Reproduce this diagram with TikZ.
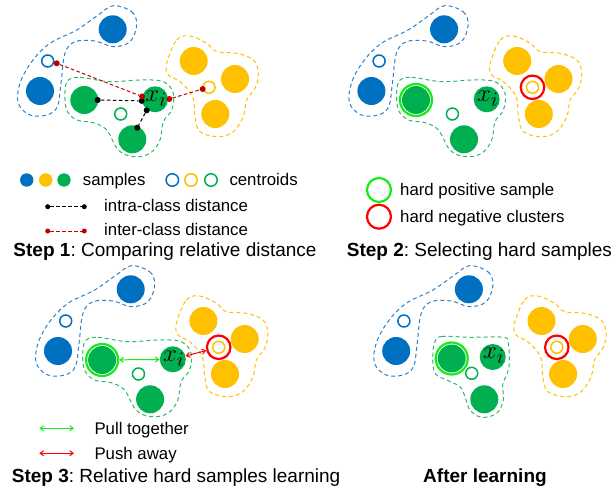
\documentclass[tikz,border=0pt]{standalone}
\usepackage{fontspec}
\setmainfont{Liberation Sans}
\usetikzlibrary{arrows.meta,calc}
\frenchspacing

\definecolor{cblue}{HTML}{0070C0}
\definecolor{cyellow}{HTML}{FFC000}
\definecolor{cgreen}{HTML}{00B050}
\definecolor{hpos}{HTML}{12EE12}
\definecolor{hneg}{HTML}{FF0000}
\definecolor{dred}{HTML}{C00000}
\definecolor{hullblue}{HTML}{2E80C8}
\definecolor{hullyellow}{HTML}{FFC000}
\definecolor{hullgreen}{HTML}{30B868}

\tikzset{
  sample/.style={circle, fill=#1, minimum size=28bp, inner sep=0},
  centroid/.style={circle, draw=#1, line width=1.5bp, minimum size=12bp, inner sep=0},
  ring/.style={circle, draw=#1, line width=2.2bp, inner sep=0},
  dotnode/.style={circle, fill=#1, minimum size=6bp, inner sep=0},
  hull/.style={draw=#1, line width=1bp, dash pattern=on 4bp off 3bp},
  distline/.style={draw=#1, line width=1bp, dash pattern=on 3.5bp off 2.5bp},
  twoway/.style={draw=#1, line width=1bp, {Straight Barb[length=3.5bp,width=5bp]}-{Straight Barb[length=3.5bp,width=5bp]}},
  lbl/.style={anchor=base west, inner sep=0, font=\fontsize{16.8bp}{20bp}\selectfont},
  steplbl/.style={inner sep=0, font=\fontsize{19bp}{22bp}\selectfont},
  xilbl/.style={font=\fontsize{28bp}{30bp}\selectfont}
}

% blue class: two samples, one centroid and the dashed hull
\newcommand\blueclass[1]{%
  \draw[hull=hullblue] plot[smooth cycle, tension=0.6] coordinates {
    (113.3,5.7) (131.7,11.7) (136.7,25) (130,41.7) (113.3,46.7) (95,41)
    (75,41.7) (65,53.3) (61,83.3) (57.3,106.7) (46.7,115) (30,115)
    (18.3,103.3) (20,83.3) (31.7,61.7) (50,43.3) (76.7,30) (98.3,15)};
  \node[sample=cblue] (#1bt) at (112.7,29.3) {};
  \node[sample=cblue] (#1bl) at (40,91) {};
  \node[centroid=cblue] (#1bc) at (47.7,61) {};
}

% yellow class
\newcommand\yellowclass[1]{%
  \draw[hull=hullyellow] plot[smooth cycle, tension=0.6] coordinates {
    (166.7,63.3) (176.7,40) (190,36) (206.7,43.3) (216.7,51.7) (236.7,53.3)
    (253.3,60) (258.3,73.3) (255,88.3) (246.7,100) (243.3,116.7) (233.3,131.7)
    (218.3,136.7) (200,131.7) (195,116.7) (192.7,96.7) (180,81.7) (168.3,75)};
  \node[sample=cyellow] (#1yt) at (193.7,61) {};
  \node[sample=cyellow] (#1yr) at (235,79) {};
  \node[sample=cyellow] (#1yb) at (215.3,114) {};
  \node[centroid=cyellow] (#1yc) at (209,87.3) {};
}

% green class, with the anchor sample x_i
\newcommand\greenclass[1]{%
  \draw[hull=hullgreen] plot[smooth cycle, tension=0.6] coordinates {
    (68.3,80) (80,77.3) (110,81.7) (140,80) (163.3,81.7) (173.3,93.3)
    (171.7,110) (163.3,121.7) (160,140) (150,153.3) (133.3,156.7) (118.3,150)
    (106.7,130) (93.3,122.7) (76.7,120) (66.7,110) (65,91.7)};
  \node[sample=cgreen] (#1gl) at (84.3,100) {};
  \node[sample=cgreen] (#1gb) at (132.3,139.3) {};
  \node[centroid=cgreen] (#1gc) at (120.7,114) {};
  \node[sample=cgreen, minimum size=26bp, xilbl] (#1xi) at (155,99.3) {};
  \node[xilbl, inner sep=0] (#1xt) at ([xshift=1bp,yshift=1bp]#1xi.center) {$x_i$};
}

\begin{document}
\begin{tikzpicture}[x=1bp, y=-1bp]
\useasboundingbox (0,0) rectangle (612,491);

%% ---------- Step 1 ----------
\blueclass{a}
\greenclass{a}
\yellowclass{a}
\node[dotnode=black] (k1) at (97.7,100) {};
\node[dotnode=black] (k2) at (141.7,100.9) {};
\node[dotnode=black] (k3) at (146.7,110.3) {};
\node[dotnode=black] (k4) at (137.3,127.7) {};
\node[dotnode=dred] (r1) at (56.7,63.3) {};
\node[dotnode=dred] (r2) at (142,96.5) {};
\node[dotnode=dred] (r3) at (169.3,99) {};
\node[dotnode=dred] (r4) at (202.7,89) {};
\draw[distline=black] (k1) -- (k2);
\draw[distline=black] (k3) -- (k4);
\draw[distline=dred] (r1) -- (r2);
\draw[distline=dred] (r3) -- (r4);

% legend of step 1
\node[sample=cblue, minimum size=13.4bp] (ls1) at (26.7,180) {};
\node[sample=cyellow, minimum size=13.4bp] (ls2) at (45.7,180) {};
\node[sample=cgreen, minimum size=13.4bp] (ls3) at (64,180) {};
\node[lbl] (tsamples) at (82.7,186) {samples};
\node[centroid=cblue, minimum size=12.5bp] (lc1) at (172.3,180) {};
\node[centroid=cyellow, minimum size=12.5bp] (lc2) at (191,180) {};
\node[centroid=cgreen, minimum size=12.5bp] (lc3) at (211,180) {};
\node[lbl] (tcentroids) at (229.3,186) {centroids};
\node[dotnode=black, minimum size=5bp] (li1) at (47.7,206.7) {};
\node[dotnode=black, minimum size=5bp] (li2) at (84.3,206.7) {};
\draw[distline=black] (li1) -- (li2);
\node[lbl] (tintra) at (104,211.7) {intra-class distance};
\node[dotnode=dred, minimum size=5bp] (le1) at (47.7,231) {};
\node[dotnode=dred, minimum size=5bp] (le2) at (84.3,231) {};
\draw[distline=dred] (le1) -- (le2);
\node[lbl] (tinter) at (104,235.7) {inter-class distance};
\node[steplbl, anchor=base west] (step1) at (13.3,256.7) {\textbf{Step 1}: Comparing relative distance};

%% ---------- Step 2 ----------
\begin{scope}[shift={(331.4,0)}]\blueclass{b}\end{scope}
\begin{scope}[shift={(331.7,0)}]\greenclass{b}\end{scope}
\begin{scope}[shift={(323.5,0)}]\yellowclass{b}\end{scope}
\node[ring=hpos, minimum size=32bp] (bhp) at (bgl) {};
\node[ring=hneg, minimum size=23.5bp] (bhn) at (byc) {};

\node[ring=hpos, minimum size=24bp] (lhp) at (379,190) {};
\node[lbl] (thp) at (400,195.7) {hard positive sample};
\node[ring=hneg, minimum size=24bp] (lhn) at (379,216.7) {};
\node[lbl] (thn) at (400,222.3) {hard negative clusters};
\node[steplbl, anchor=base west] (step2) at (346.7,256) {\textbf{Step 2}: Selecting hard samples};

%% ---------- Step 3 ----------
\begin{scope}[shift={(18,260)}]\blueclass{c}\end{scope}
\begin{scope}[shift={(17.8,260)}]\greenclass{c}\end{scope}
\begin{scope}[shift={(9.7,260)}]\yellowclass{c}\end{scope}
\node[ring=hpos, minimum size=32bp] (chp) at (cgl) {};
\node[ring=hneg, minimum size=23.5bp] (chn) at (cyc) {};
\draw[twoway=hpos] (chp) -- (cxi);
\draw[twoway=hneg] (cxi) -- (chn);

\coordinate (pa1) at (39.3,428.3);
\coordinate (pa2) at (74,428.3);
\draw[twoway=hpos] (pa1) -- (pa2);
\node[lbl] (tpull) at (94.3,434) {Pull together};
\coordinate (pb1) at (39.3,453.3);
\coordinate (pb2) at (74,453.3);
\draw[twoway=hneg] (pb1) -- (pb2);
\node[lbl] (tpush) at (94.3,459.3) {Push away};
\node[steplbl, anchor=base west] (step3) at (11.7,482.7) {\textbf{Step 3}: Relative hard samples learning};

%% ---------- After learning ----------
\begin{scope}[shift={(356.2,260)}]\blueclass{d}\end{scope}
\begin{scope}[shift={(347.8,260)}]\yellowclass{d}\end{scope}
\draw[hull=hullgreen] plot[smooth cycle, tension=0.6] coordinates {
  (435,341.7) (441.7,336.5) (470,337.3) (503.3,337.3) (508.3,343.3)
  (509.3,363.3) (507.3,373.3) (502.7,385) (503.3,400) (496.7,413.3)
  (481.7,417.3) (470,410) (465,396.7) (460,386.7) (446.7,380)
  (435,373.3) (432.7,356.7)};
\node[sample=cgreen] (dgl) at (451.7,358.5) {};
\node[sample=cgreen] (dgb) at (484.3,399.3) {};
\node[centroid=cgreen] (dgc) at (471.7,373.3) {};
\node[sample=cgreen, minimum size=26bp] (dxi) at (492.7,357) {};
\node[xilbl, inner sep=0] (dxt) at ([xshift=1bp,yshift=1bp]dxi.center) {$x_i$};
\node[ring=hpos, minimum size=32bp] (dhp) at (dgl) {};
\node[ring=hneg, minimum size=23.5bp] (dhn) at (dyc) {};
\node[steplbl, anchor=base] (after) at (485,482.7) {\textbf{After learning}};

\end{tikzpicture}
\end{document}
